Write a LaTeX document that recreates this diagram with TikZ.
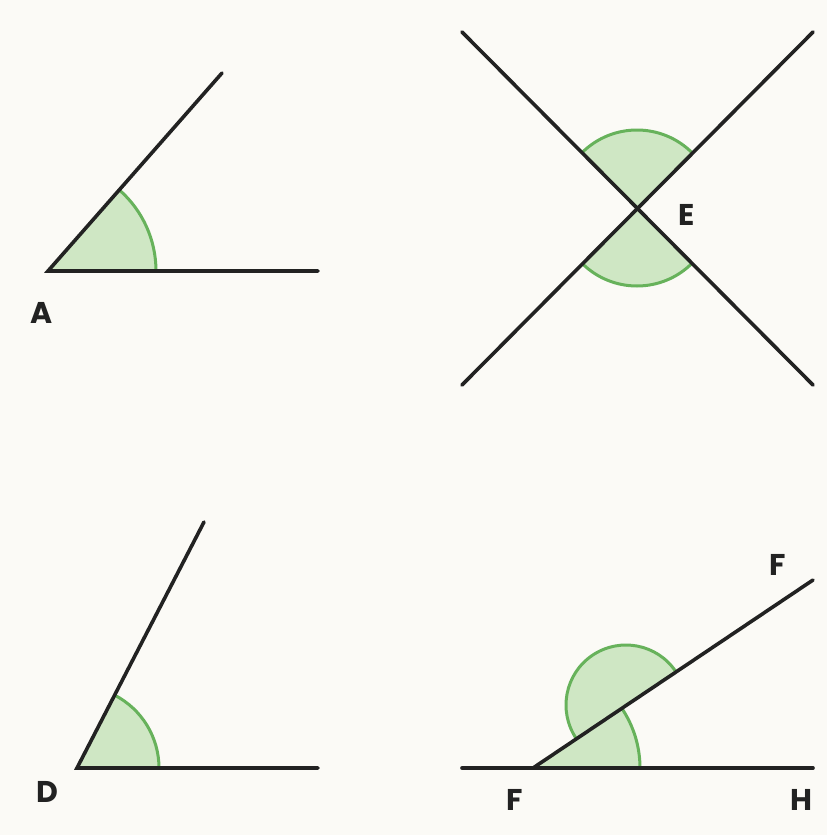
\documentclass[tikz,border=0pt]{standalone}
\usepackage{fontspec}
\setmainfont{Poppins}
\definecolor{bg}{HTML}{FBFAF6}
\definecolor{gfill}{HTML}{CFE7C4}
\definecolor{gline}{HTML}{67B25B}
\definecolor{ink}{HTML}{222222}
\begin{document}
\begin{tikzpicture}[x=1pt,y=-1pt,
  ray/.style={ink,line width=3.6pt,line cap=round},
  ang/.style={fill=gfill,draw=gline,line width=3pt},
  lab/.style={font=\fontsize{30}{30}\selectfont\bfseries,text=ink,inner sep=0pt}]
\fill[bg] (0,0) rectangle (827,835);
\useasboundingbox (0,0) rectangle (827,835);
% Panel A
\coordinate (A) at (48,271);
\fill[gfill] (A) -- ++(0:108) arc[start angle=0,end angle=-48.7,radius=108] -- cycle;
\draw[gline,line width=3pt] (A) ++(0:108) arc[start angle=0,end angle=-48.7,radius=108];
\coordinate (A1) at (222,73); \coordinate (A2) at (318,271);
\draw[ray] (A1) -- (A) -- (A2);
\node[lab] (la) at (42,313) {A};
% Panel E
\coordinate (E) at (637,208);
\fill[gfill] (E) -- ++(-45:78) arc[start angle=-45,end angle=-135,radius=78] -- cycle;
\draw[gline,line width=3pt] (E) ++(-45:78) arc[start angle=-45,end angle=-135,radius=78];
\fill[gfill] (E) -- ++(45:78) arc[start angle=45,end angle=135,radius=78] -- cycle;
\draw[gline,line width=3pt] (E) ++(45:78) arc[start angle=45,end angle=135,radius=78];
\coordinate (E1) at (462,32); \coordinate (E2) at (813,385);
\coordinate (E3) at (462,385); \coordinate (E4) at (813,32);
\draw[ray] (E1) -- (E2); \draw[ray] (E3) -- (E4);
\node[lab] (le) at (687,215) {E};
% Panel D
\coordinate (D) at (77,768);
\fill[gfill] (D) -- ++(0:82) arc[start angle=0,end angle=-62.7,radius=82] -- cycle;
\draw[gline,line width=3pt] (D) ++(0:82) arc[start angle=0,end angle=-62.7,radius=82];
\coordinate (D1) at (204,522); \coordinate (D2) at (318,768);
\draw[ray] (D1) -- (D) -- (D2);
\node[lab] (ld) at (47,792) {D};
% Panel F
\coordinate (F) at (533,768);
\fill[gfill] (F) -- ++(0:107) arc[start angle=0,end angle=-33.9,radius=107] -- cycle;
\draw[gline,line width=3pt] (F) ++(0:107) arc[start angle=0,end angle=-33.9,radius=107];
\coordinate (C) at (626,705);
\fill[gfill] (C) -- ++(-33.9:60) arc[start angle=-33.9,end angle=-213.9,radius=60] -- cycle;
\draw[gline,line width=3pt] (C) ++(-33.9:60) arc[start angle=-33.9,end angle=-213.9,radius=60];
\coordinate (F1) at (462,768); \coordinate (F2) at (813,768); \coordinate (F3) at (813,580);
\draw[ray] (F1) -- (F2); \draw[ray] (F) -- (F3);
\node[lab] (lf) at (515,800) {F};
\node[lab] (lf2) at (778,565) {F};
\node[lab] (lh) at (801,800) {H};
\end{tikzpicture}
\end{document}
